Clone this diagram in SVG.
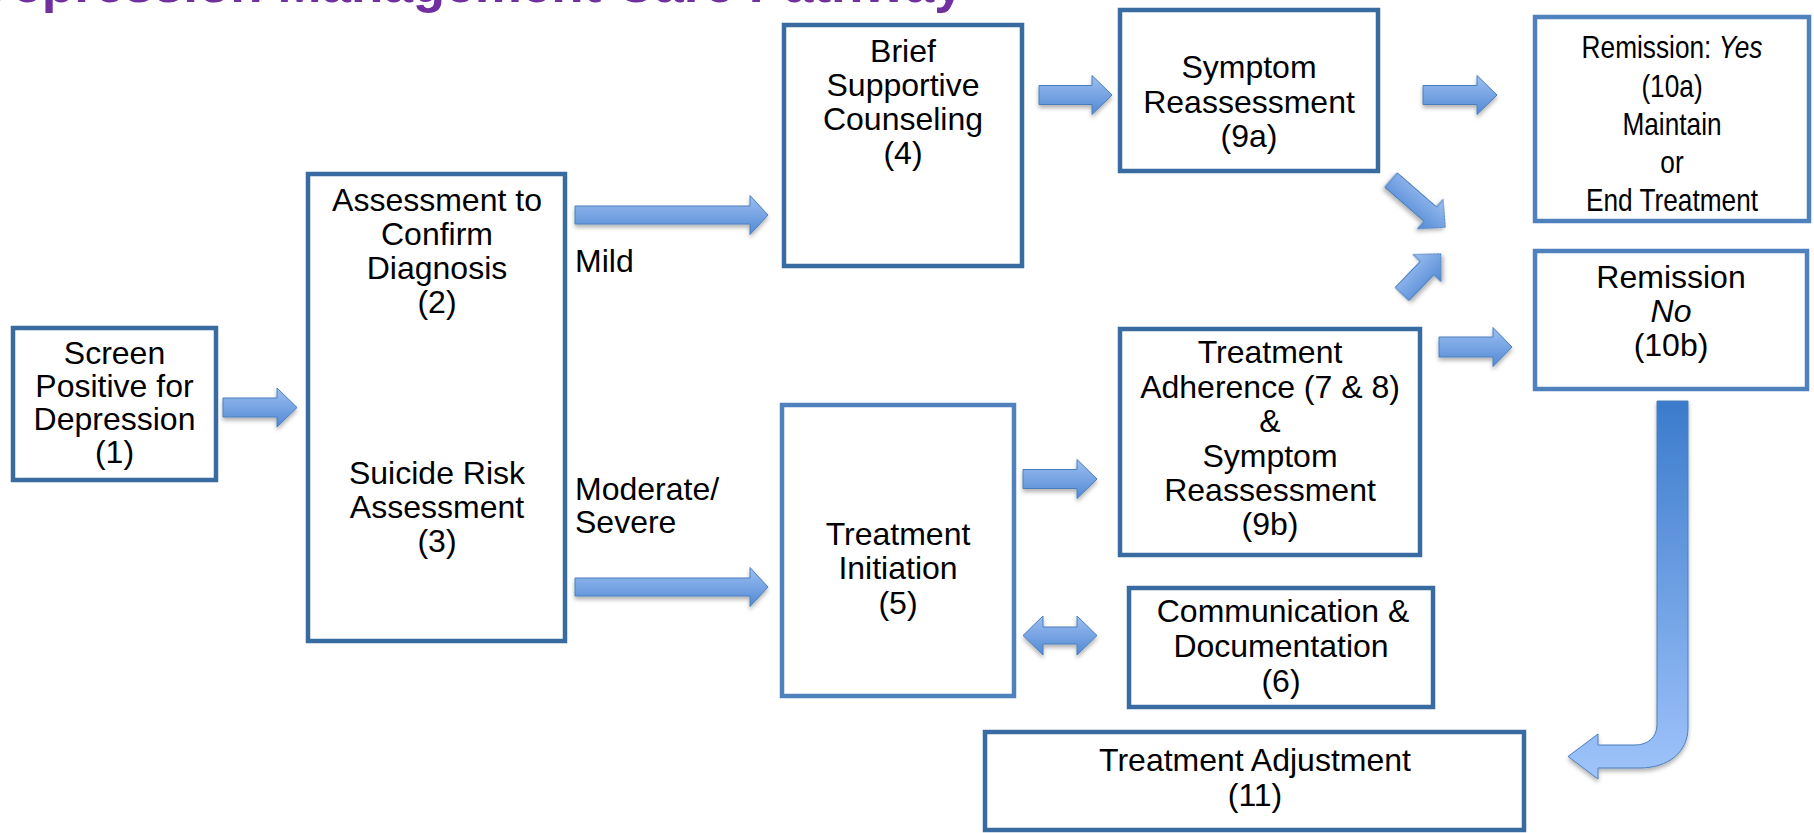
<svg xmlns="http://www.w3.org/2000/svg" width="1814" height="833" viewBox="0 0 1814 833">
  <style>
    .box { fill: #ffffff; stroke: #386ba0; stroke-width: 4.5; }
    .box-lt { fill: #ffffff; stroke: #4f81bd; stroke-width: 4.5; }
    .lbl { font-family: "Liberation Sans", Arial, sans-serif; font-size: 32px; fill: #000000; }
    .mid { text-anchor: middle; }
    .arrow { fill: url(#arrowFill); stroke: #4a7ebb; stroke-width: 1; filter: url(#shadow); }
    .title { font-family: "Liberation Sans", Arial, sans-serif; font-size: 53px; font-weight: bold; fill: #7030a0; }
  </style>
  <defs>
    <linearGradient id="arrowFill" x1="0" y1="0" x2="0" y2="1">
      <stop offset="0" stop-color="#9cbff2"/>
      <stop offset="1" stop-color="#5389d4"/>
    </linearGradient>
    <linearGradient id="bentFill" gradientUnits="userSpaceOnUse" x1="0" y1="401" x2="0" y2="779">
      <stop offset="0" stop-color="#3b7bcc"/>
      <stop offset="1" stop-color="#a0c4fb"/>
    </linearGradient>
    <filter id="shadow" x="-20%" y="-40%" width="140%" height="190%">
      <feDropShadow dx="0" dy="3" stdDeviation="2" flood-color="#000000" flood-opacity="0.3"/>
    </filter>
  </defs>

  <rect width="1814" height="833" fill="#ffffff"/>

  <!-- page heading, cropped by the top edge -->
  <text class="title" x="-26" y="2">Depression Management Care Pathway</text>

  <!-- connectors -->
  <g id="connectors">
    <!-- 1 to 2 -->
    <path class="arrow" transform="translate(223,407.5)" d="M0,-9.5 H54 V-19.5 L74,0 L54,19.5 V9.5 H0 Z"/>
    <!-- mild -->
    <path class="arrow" transform="translate(575,215)" d="M0,-9 H175 V-19.5 L193,0 L175,19.5 V9 H0 Z"/>
    <!-- moderate / severe -->
    <path class="arrow" transform="translate(575,587)" d="M0,-9 H175 V-19.5 L193,0 L175,19.5 V9 H0 Z"/>
    <!-- 4 to 9a -->
    <path class="arrow" transform="translate(1039,95)" d="M0,-9.5 H53 V-19.5 L73,0 L53,19.5 V9.5 H0 Z"/>
    <!-- 9a to 10a -->
    <path class="arrow" transform="translate(1423,95)" d="M0,-9.5 H54 V-19.5 L74,0 L54,19.5 V9.5 H0 Z"/>
    <!-- 9a down toward 10b -->
    <path class="arrow" transform="translate(1391,180) rotate(41)" d="M0,-9.5 H52 V-19.5 L72,0 L52,19.5 V9.5 H0 Z"/>
    <!-- 9b up toward 10b -->
    <path class="arrow" transform="translate(1402,294) rotate(-46)" d="M0,-9.5 H36 V-19.5 L56,0 L36,19.5 V9.5 H0 Z"/>
    <!-- 9b to 10b -->
    <path class="arrow" transform="translate(1439,347)" d="M0,-10 H54 V-19.5 L73,0 L54,19.5 V10 H0 Z"/>
    <!-- 5 to 9b -->
    <path class="arrow" transform="translate(1023,479)" d="M0,-9.5 H54 V-19.5 L74,0 L54,19.5 V9.5 H0 Z"/>
    <!-- 5 and 6, both ways -->
    <path class="arrow" transform="translate(1023,635.5)" d="M0,0 L20,-19.5 V-8.5 H54 V-19.5 L74,0 L54,19.5 V8.5 H20 V19.5 Z"/>
    <!-- 10b back to 11 -->
    <path fill="url(#bentFill)" stroke="#4a7ebb" stroke-width="1" filter="url(#shadow)"
          d="M1657,401 H1688 V728 C1688,752 1668,768 1640,768 H1598 V779 L1568,756.5 L1598,734 V745 H1635 C1648,745 1657,737 1657,725 Z"/>
  </g>

  <g id="n1">
    <rect class="box" x="13" y="328" width="203" height="152"/>
    <text class="lbl mid" x="114.5" y="364">Screen</text>
    <text class="lbl mid" x="114.5" y="397">Positive for</text>
    <text class="lbl mid" x="114.5" y="430">Depression</text>
    <text class="lbl mid" x="114.5" y="463">(1)</text>
  </g>

  <g id="n2">
    <rect class="box" x="308" y="174" width="257" height="467"/>
    <text class="lbl mid" x="437" y="211">Assessment to</text>
    <text class="lbl mid" x="437" y="245">Confirm</text>
    <text class="lbl mid" x="437" y="279">Diagnosis</text>
    <text class="lbl mid" x="437" y="313">(2)</text>
    <text class="lbl mid" x="437" y="484">Suicide Risk</text>
    <text class="lbl mid" x="437" y="518">Assessment</text>
    <text class="lbl mid" x="437" y="552">(3)</text>
  </g>

  <g id="edge-labels">
    <text class="lbl" x="575" y="272">Mild</text>
    <text class="lbl" x="575" y="500">Moderate/</text>
    <text class="lbl" x="575" y="533">Severe</text>
  </g>

  <g id="n4">
    <rect class="box" x="784" y="25" width="238" height="241"/>
    <text class="lbl mid" x="903" y="62">Brief</text>
    <text class="lbl mid" x="903" y="96">Supportive</text>
    <text class="lbl mid" x="903" y="130">Counseling</text>
    <text class="lbl mid" x="903" y="164">(4)</text>
  </g>

  <g id="n9a">
    <rect class="box" x="1120" y="10" width="258" height="161"/>
    <text class="lbl mid" x="1249" y="78">Symptom</text>
    <text class="lbl mid" x="1249" y="113">Reassessment</text>
    <text class="lbl mid" x="1249" y="147">(9a)</text>
  </g>

  <g id="n10a">
    <rect class="box-lt" x="1535" y="17" width="274" height="204"/>
    <g transform="translate(1672,0) scale(0.82,1)">
      <text class="lbl mid" x="0" y="58">Remission: <tspan font-style="italic">Yes</tspan></text>
      <text class="lbl mid" x="0" y="97">(10a)</text>
      <text class="lbl mid" x="0" y="135">Maintain</text>
      <text class="lbl mid" x="0" y="173">or</text>
      <text class="lbl mid" x="0" y="211">End Treatment</text>
    </g>
  </g>

  <g id="n10b">
    <rect class="box-lt" x="1535" y="251" width="272" height="138"/>
    <text class="lbl mid" x="1671" y="288">Remission</text>
    <text class="lbl mid" x="1671" y="322" font-style="italic">No</text>
    <text class="lbl mid" x="1671" y="356">(10b)</text>
  </g>

  <g id="n9b">
    <rect class="box" x="1120" y="329" width="300" height="226"/>
    <text class="lbl mid" x="1270" y="363">Treatment</text>
    <text class="lbl mid" x="1270" y="398">Adherence (7 &amp; 8)</text>
    <text class="lbl mid" x="1270" y="432">&amp;</text>
    <text class="lbl mid" x="1270" y="467">Symptom</text>
    <text class="lbl mid" x="1270" y="501">Reassessment</text>
    <text class="lbl mid" x="1270" y="535">(9b)</text>
  </g>

  <g id="n5">
    <rect class="box-lt" x="782" y="405" width="232" height="291" stroke-width="4"/>
    <text class="lbl mid" x="898" y="545">Treatment</text>
    <text class="lbl mid" x="898" y="579">Initiation</text>
    <text class="lbl mid" x="898" y="614">(5)</text>
  </g>

  <g id="n6">
    <rect class="box" x="1129" y="588" width="304" height="119"/>
    <text class="lbl mid" x="1283" y="622">Communication &amp;</text>
    <text class="lbl mid" x="1281" y="657">Documentation</text>
    <text class="lbl mid" x="1281" y="692">(6)</text>
  </g>

  <g id="n11">
    <rect class="box" x="985" y="732" width="539" height="98"/>
    <text class="lbl mid" x="1255" y="771">Treatment Adjustment</text>
    <text class="lbl mid" x="1255" y="806">(11)</text>
  </g>
</svg>
